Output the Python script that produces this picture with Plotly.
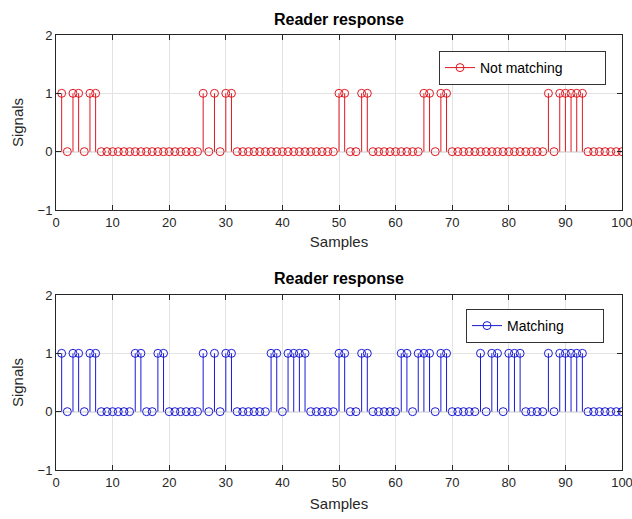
import plotly.graph_objects as go

samples = list(range(1, 101))

not_matching = [
    1, 0, 1, 1, 0, 1, 1, 0, 0, 0,
    0, 0, 0, 0, 0, 0, 0, 0, 0, 0,
    0, 0, 0, 0, 0, 1, 0, 1, 0, 1,
    1, 0, 0, 0, 0, 0, 0, 0, 0, 0,
    0, 0, 0, 0, 0, 0, 0, 0, 0, 1,
    1, 0, 0, 1, 1, 0, 0, 0, 0, 0,
    0, 0, 0, 0, 1, 1, 0, 1, 1, 0,
    0, 0, 0, 0, 0, 0, 0, 0, 0, 0,
    0, 0, 0, 0, 0, 0, 1, 0, 1, 1,
    1, 1, 1, 0, 0, 0, 0, 0, 0, 0,
]

matching = [
    1, 0, 1, 1, 0, 1, 1, 0, 0, 0,
    0, 0, 0, 1, 1, 0, 0, 1, 1, 0,
    0, 0, 0, 0, 0, 1, 0, 1, 0, 1,
    1, 0, 0, 0, 0, 0, 0, 1, 1, 0,
    1, 1, 1, 1, 0, 0, 0, 0, 0, 1,
    1, 0, 0, 1, 1, 0, 0, 0, 0, 0,
    1, 1, 0, 1, 1, 1, 0, 1, 1, 0,
    0, 0, 0, 0, 1, 0, 1, 1, 0, 1,
    1, 1, 0, 0, 0, 0, 1, 0, 1, 1,
    1, 1, 1, 0, 0, 0, 0, 0, 0, 0,
]

x_ticks = list(range(0, 101, 10))
y_ticks = [-1, 0, 1, 2]
title_text = "Reader response"
x_title = "Samples"
y_title = "Signals"

W, H = 632, 519
FONT = "Liberation Sans, Arial, Helvetica, sans-serif"
AX = "#262626"
GRID = "#e3e3e3"
RED = "#e01820"
BLUE = "#1a1ad6"


def px(v):
    return v / W


def py(v):
    return 1 - v / H


fig = go.Figure()


def add_stem(values, color, name, xa, ya, legend):
    fig.add_trace(go.Scatter(
        x=samples, y=values, mode="markers", xaxis=xa, yaxis=ya,
        marker=dict(symbol="circle-open", size=8, color=color, line=dict(width=1, color=color)),
        error_y=dict(type="data", symmetric=False, array=[0] * len(values),
                     arrayminus=values, width=0, thickness=1, color=color),
        showlegend=False, hoverinfo="x+y",
    ))
    fig.add_trace(go.Scatter(
        x=[None], y=[None], mode="lines+markers", name=name, xaxis=xa, yaxis=ya,
        line=dict(color=color, width=1),
        marker=dict(symbol="circle-open", size=8, color=color, line=dict(width=1, color=color)),
        legend=legend,
    ))


add_stem(not_matching, RED, "Not matching", "x", "y", "legend")
add_stem(matching, BLUE, "Matching", "x2", "y2", "legend2")

axis_common = dict(
    showline=True, linecolor=AX, linewidth=1, mirror="allticks",
    ticks="inside", ticklen=5, tickwidth=1, tickcolor=AX,
    showgrid=True, gridcolor=GRID, gridwidth=1, zeroline=False,
    tickfont=dict(family=FONT, size=13, color=AX), automargin=False,
    ticklabeloverflow="allow",
)

x_dom = [px(56), px(622)]
top_dom = [py(210), py(35)]
bot_dom = [py(470), py(295)]

legend_common = dict(
    xanchor="left", yanchor="top", orientation="h",
    bgcolor="white", bordercolor="#333333", borderwidth=1,
    font=dict(family=FONT, size=14, color="#000000"),
)

fig.update_layout(
    width=W, height=H,
    margin=dict(l=0, r=0, t=0, b=0, pad=0),
    paper_bgcolor="white", plot_bgcolor="white",
    font=dict(family=FONT, color=AX),
    xaxis=dict(domain=x_dom, anchor="y", range=[0, 100], tickvals=x_ticks,
               title=dict(text=x_title, font=dict(size=15, color=AX), standoff=7), **axis_common),
    yaxis=dict(domain=top_dom, anchor="x", range=[-1, 2], tickvals=y_ticks,
               title=dict(text=y_title, font=dict(size=15, color=AX), standoff=10), **axis_common),
    xaxis2=dict(domain=x_dom, anchor="y2", range=[0, 100], tickvals=x_ticks,
                title=dict(text=x_title, font=dict(size=15, color=AX), standoff=9), **axis_common),
    yaxis2=dict(domain=bot_dom, anchor="x2", range=[-1, 2], tickvals=y_ticks,
                title=dict(text=y_title, font=dict(size=15, color=AX), standoff=10), **axis_common),
    legend=dict(x=px(439), y=py(51), entrywidth=120, **legend_common),
    legend2=dict(x=px(466), y=py(309), entrywidth=91, **legend_common),
    shapes=[
        dict(type="line", xref="x", yref="y", x0=0, x1=100, y0=0, y1=0,
             line=dict(color="#555555", width=1), layer="below"),
        dict(type="line", xref="x2", yref="y2", x0=0, x1=100, y0=0, y1=0,
             line=dict(color="#555555", width=1), layer="below"),
    ],
    annotations=[
        dict(text="<b>" + title_text + "</b>", x=(x_dom[0] + x_dom[1]) / 2, y=py(19),
             xref="paper", yref="paper", showarrow=False, xanchor="center", yanchor="middle",
             font=dict(family=FONT, size=16, color="#000000")),
        dict(text="<b>" + title_text + "</b>", x=(x_dom[0] + x_dom[1]) / 2, y=py(278),
             xref="paper", yref="paper", showarrow=False, xanchor="center", yanchor="middle",
             font=dict(family=FONT, size=16, color="#000000")),
    ],
)

fig.write_html(
    "out.html",
    config={"displayModeBar": False},
    post_script=(
        "document.body.style.margin='0';"
        "document.body.style.overflow='hidden';"
        "document.documentElement.style.overflow='hidden';"
    ),
)
